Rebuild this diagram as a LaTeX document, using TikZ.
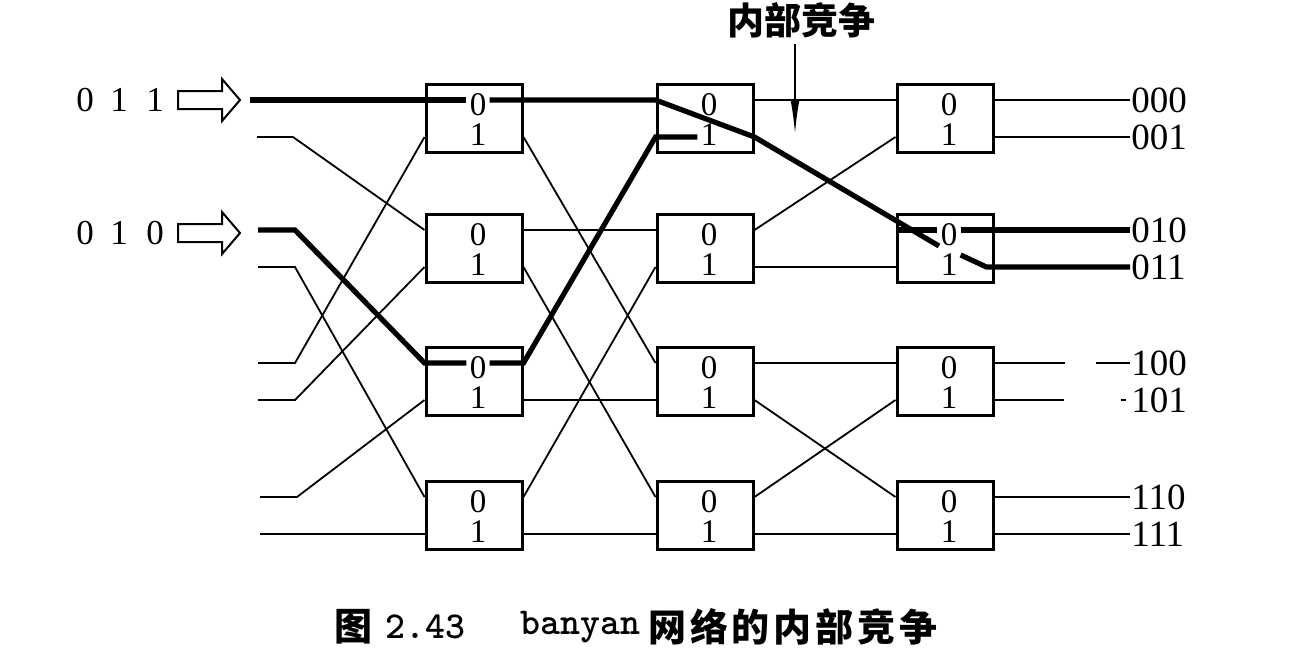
\documentclass[tikz,border=0pt]{standalone}
\usepackage{fontspec}
\setmainfont{Liberation Serif}
\newfontfamily\cjk{Noto Sans CJK SC}
\newfontfamily\capmono{lmmonolt10-bold.otf}
\usetikzlibrary{calc,arrows.meta}
\begin{document}
\begin{tikzpicture}[x=0.5pt,y=-0.5pt,
  swbox/.style={draw,line width=1.5pt,minimum width=48pt,minimum height=34pt,inner sep=0pt},
  dig/.style={font=\fontsize{16.5}{16.5}\selectfont,inner sep=0pt},
  lbl/.style={font=\fontsize{17.5}{17.5}\selectfont,inner sep=0.5pt},
  wire/.style={line width=0.9pt},
  heavy/.style={line width=2.6pt},
  hollow/.style={line width=1pt,line join=miter}
]
\useasboundingbox (0,0) rectangle (1308,654);

% switching elements
\foreach \c/\x in {1/474,2/705,3/945}{
  \foreach \r/\y in {1/118,2/248,3/381,4/515}{
    \node[swbox] (b\c\r) at (\x,\y) {};
    \node[dig] (b\c\r-z) at ($(b\c\r)+(4,-13)$) {0};
    \node[dig] (b\c\r-e) at ($(b\c\r)+(4,17)$) {1};
    \coordinate (b\c\r-i0) at ($(b\c\r.west)+(0,-18)$);
    \coordinate (b\c\r-i1) at ($(b\c\r.west)+(0,19)$);
    \coordinate (b\c\r-o0) at ($(b\c\r.east)+(0,-18)$);
    \coordinate (b\c\r-o1) at ($(b\c\r.east)+(0,19)$);
  }
}

% inputs
\coordinate (in0) at (250,100);
\coordinate (in1) at (257,137);
\coordinate (in2) at (258,230);
\coordinate (in3) at (258,267);
\coordinate (in4) at (258,363);
\coordinate (in5) at (258,400);
\coordinate (in6) at (260,497);
\coordinate (in7) at (260,534);

\draw[wire] (in1) -- ++(36,0) -- (b12-i0);
\draw[wire] (in3) -- ++(37,0) -- (b14-i0);
\draw[wire] (in4) -- ++(37,0) -- (b11-i1);
\draw[wire] (in5) -- ++(37,0) -- (b12-i1);
\draw[wire] (in6) -- ++(37,0) -- (b13-i1);
\draw[wire] (in7) -- (b14-i1);

% stage 1 -> 2
\draw[wire] (b11-o1) -- (b23-i0);
\draw[wire] (b12-o0) -- (b22-i0);
\draw[wire] (b12-o1) -- (b24-i0);
\draw[wire] (b13-o1) -- (b23-i1);
\draw[wire] (b14-o0) -- (b22-i1);
\draw[wire] (b14-o1) -- (b24-i1);

% stage 2 -> 3
\draw[wire] (b21-o0) -- (b31-i0);
\draw[wire] (b22-o0) -- (b31-i1);
\draw[wire] (b22-o1) -- (b32-i1);
\draw[wire] (b23-o0) -- (b33-i0);
\draw[wire] (b23-o1) -- (b34-i0);
\draw[wire] (b24-o0) -- (b33-i1);
\draw[wire] (b24-o1) -- (b34-i1);

% outputs
\coordinate (o0) at (1130,100);
\coordinate (o1) at (1130,137);
\coordinate (o2) at (1130,230);
\coordinate (o3) at (1130,267);
\coordinate (o4) at (1130,363);
\coordinate (o5) at (1130,400);
\coordinate (o6) at (1130,497);
\coordinate (o7) at (1130,534);
\draw[wire] (b31-o0) -- (o0);
\draw[wire] (b31-o1) -- (o1);
\draw[wire] (b33-o0) -- ($(b33-o0)!0.52!(o4)$);
\draw[wire] ($(b33-o0)!0.75!(o4)$) -- (o4);
\draw[wire] (b33-o1) -- ($(b33-o1)!0.51!(o5)$);
\draw[wire] ($(b33-o1)!0.93!(o5)$) -- ($(b33-o1)!0.97!(o5)$);
\draw[wire] (b34-o0) -- (o6);
\draw[wire] (b34-o1) -- (o7);

\foreach \k/\t in {0/000,1/001,2/010,3/011,4/100,5/101,6/110,7/111}{
  \node[lbl,anchor=west,font=\fontsize{18.5}{18.5}\selectfont] (t\k) at (o\k) {\t};
}

% heavy path for 011
\draw[heavy] (in0) -- ($(b11-z.west)+(-3,-5)$);
\draw[heavy] ($(b11-z.east)+(3,-5)$) -- (b21-i0) -- (b21-o1) -- ($(b32)+(-6,-2)$);
% heavy path for 010
\draw[heavy] (in2) -- ++(37,0) -- (b13-i0) -- ($(b13-z.west)+(-3,-5)$);
\draw[heavy] ($(b13-z.east)+(3,-5)$) -- (b13-o0) -- (b21-i1) -- ($(b21-e.west)+(-3,2)$);
% contention in last stage
\draw[heavy] ($(b32.west)+(0,-18)$) -- ($(b32-z.west)+(-3,-5)$);
\draw[heavy] ($(b32-z.east)+(3,-5)$) -- (b32-o0) -- (o2);
\draw[heavy] ($(b32-e.east)+(3,-10)$) -- ($(b32.east)+(-8,19)$) -- (o3);

% input arrows and labels
\foreach \y/\a/\b/\cc in {100/0/1/1,233/0/1/0}{
  \draw[hollow] (178,\y-9) -- (222,\y-9) -- (222,\y-21) -- (240,\y) -- (222,\y+21) -- (222,\y+9) -- (178,\y+9) -- cycle;
  \node[lbl] at (85,\y) {\a};
  \node[lbl] at (119,\y) {\b};
  \node[lbl] at (155,\y) {\cc};
}

% internal contention label
\node[font=\fontsize{18.5}{18.5}\selectfont\cjk\bfseries,inner sep=0pt] (ttl) at (801,20) {内部竞争};
\coordinate (ctip) at (795,134);
\draw[line width=0.9pt,-{Latex[length=17pt,width=4.5pt]}] (ttl.south -| ctip) ++(0,6) -- (ctip);

% caption
\node[anchor=west,inner sep=0pt,font=\fontsize{19}{19}\selectfont\cjk\bfseries] (cap1) at (334,627) {图};
\node[anchor=west,inner sep=0pt,font=\fontsize{19}{19}\selectfont\capmono] (cap2) at (385,627) {2.43};
\node[anchor=west,inner sep=0pt,font=\fontsize{19}{19}\selectfont\capmono] (cap3) at (520,627) {banyan};
\node[anchor=west,inner sep=0pt,font=\fontsize{19}{19}\selectfont\cjk\bfseries] (cap4) at (648,627) {\addfontfeature{LetterSpace=10}网络的内部竞争};
\end{tikzpicture}
\end{document}
